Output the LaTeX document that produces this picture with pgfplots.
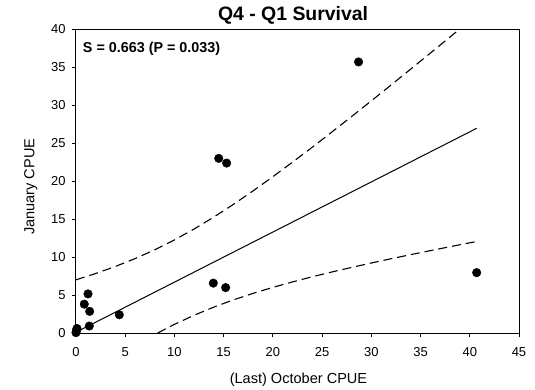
\documentclass[border=0pt]{standalone}
\usepackage{pgfplots}
\pgfplotsset{compat=1.18}
\usepackage{fontspec}
\setmainfont{Liberation Sans}
\begin{document}
\begin{tikzpicture}
\begin{axis}[
  at={(0,0)}, anchor=south west,
  width=443bp, height=303.7bp, scale only axis,
  xmin=0, xmax=45, ymin=0, ymax=40,
  xtick={0,5,...,45}, ytick={0,5,...,40},
  tick align=outside, tick pos=left,
  major tick length=4bp,
  axis line style={line width=1bp},
  every tick/.style={black, line width=1bp},
  ticklabel style={font=\fontsize{13}{14}\selectfont},
  xticklabel style={anchor=base, yshift=-19bp},
  yticklabel style={xshift=-3bp},
  /pgf/number format/assume math mode=true,
  clip=false,
]
\addplot[only marks, mark=*, mark size=4.3bp, black] coordinates {
(0,0.05) (0.05,0.35) (0.1,0.6) (0.84,3.8) (1.22,5.15) (1.39,2.85) (1.35,0.92)
(4.4,2.4) (13.95,6.57) (15.2,5.98) (14.5,23.0) (15.3,22.38) (28.7,35.7) (40.7,7.95)
};
\addplot[black, line width=1bp] coordinates {(0,0.1) (40.7,26.96)};
\addplot[black, line width=1.1bp, dash pattern=on 9bp off 5bp] coordinates {
(0,7.0) (2,7.84) (4,8.76) (6,9.80) (8,10.96) (10,12.26) (12,13.70) (14,15.27)
(16,16.95) (18,18.73) (20,20.59) (22,22.51) (24,24.47) (26,26.48) (28,28.52)
(30,30.58) (32,32.66) (34,34.76) (36,36.87) (38,38.99) (38.95,40)
};
\addplot[black, line width=1.1bp, dash pattern=on 9bp off 5bp] coordinates {
(8.3,0) (10,1.14) (12,2.34) (14,3.41) (16,4.37) (18,5.23) (20,6.01) (22,6.73)
(24,7.41) (26,8.04) (28,8.64) (30,9.22) (32,9.78) (34,10.32) (36,10.85)
(38,11.37) (40,11.88) (40.7,12.05)
};
\node[anchor=base west, font=\bfseries\fontsize{14.4}{16}\selectfont] at (axis cs:0.35,36.93) {S = 0.663 (P = 0.033)};
\node[anchor=base, font=\bfseries\fontsize{19.5}{21}\selectfont] at (axis cs:22.05,41.15) {Q4 - Q1 Survival};
\node[anchor=base, font=\fontsize{14.6}{16}\selectfont] at (axis cs:22.6,-6.59) {(Last) October CPUE};
\node[anchor=base, rotate=90, font=\fontsize{14.6}{16}\selectfont] at (axis cs:-4.22,19.27) {January CPUE};
\end{axis}
\path[use as bounding box] (-76bp,-55bp) rectangle (459bp,333bp);
\end{tikzpicture}
\end{document}
